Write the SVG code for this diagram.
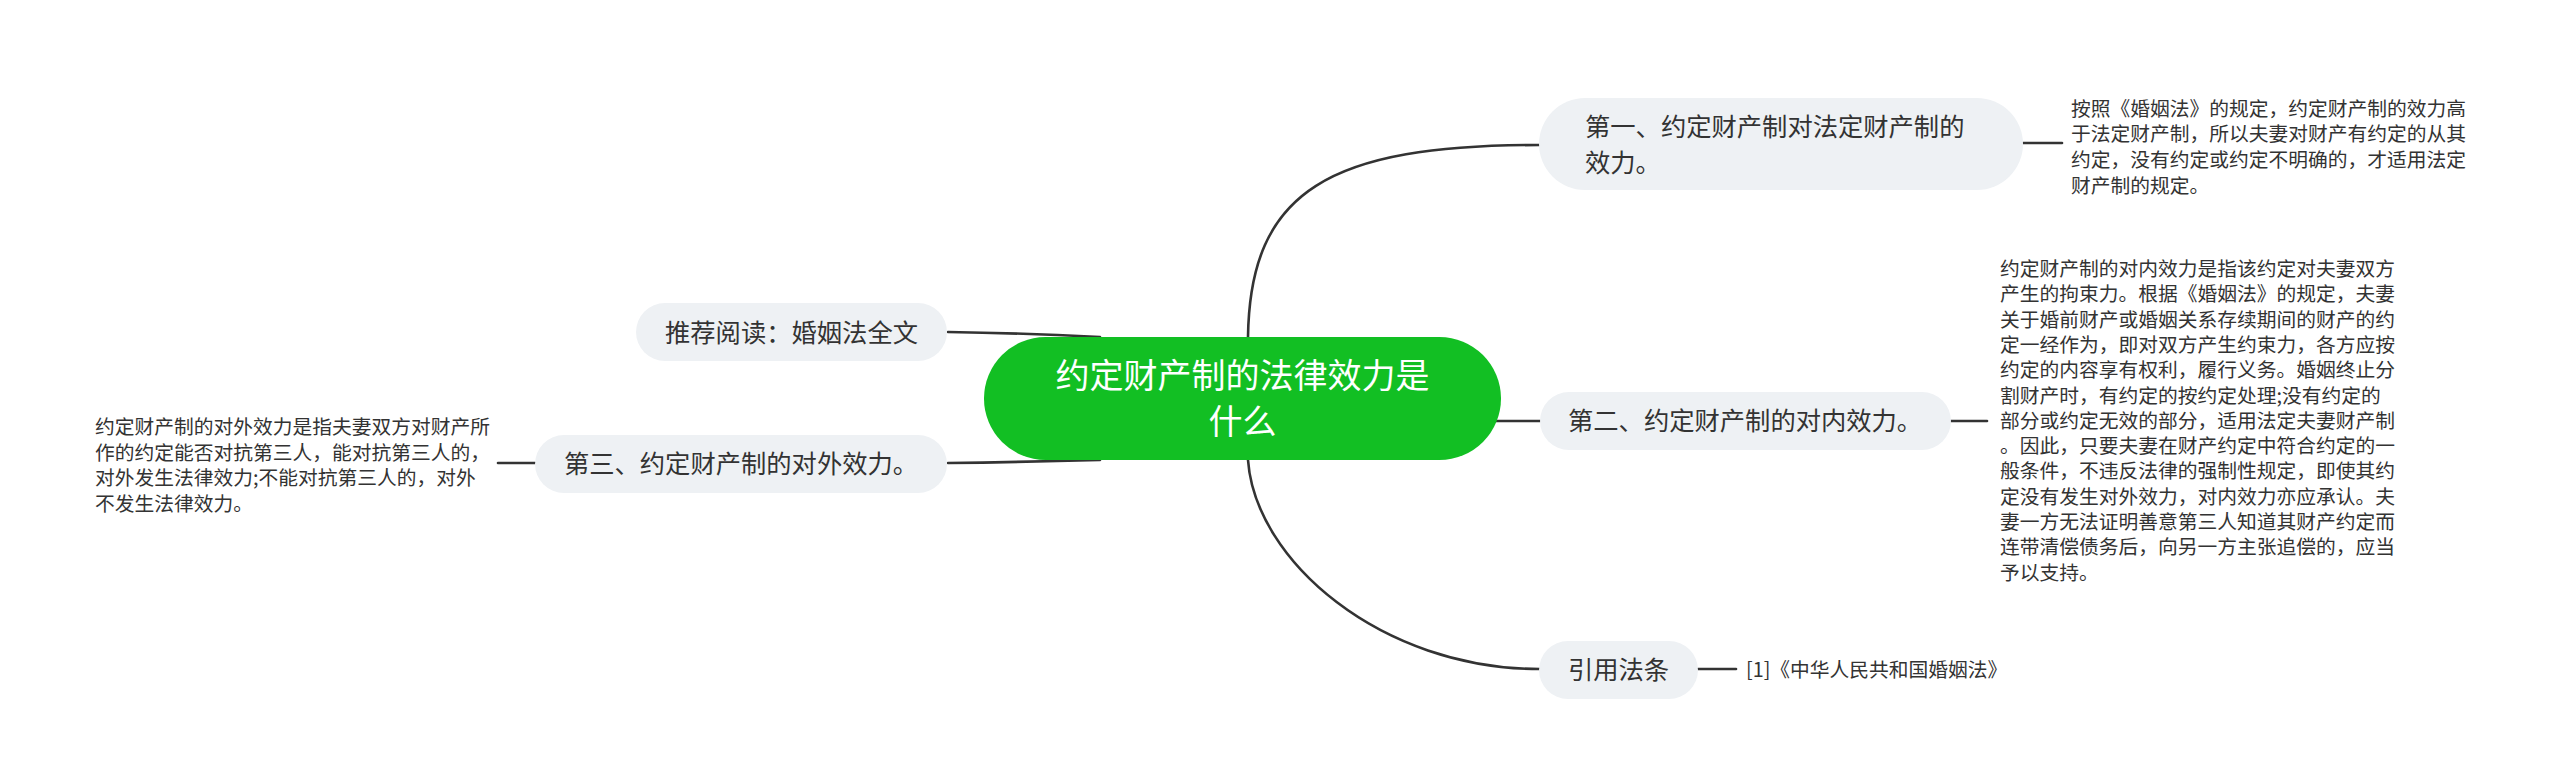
<svg xmlns="http://www.w3.org/2000/svg" width="2560" height="782" viewBox="0 0 2560 782">
<style>
.bg{fill:#ffffff}
.edge{fill:none;stroke:#333333;stroke-width:2.6;stroke-linecap:round}
.main{fill:#12BF23}
.sub{fill:#EEF1F4}
.t{font-family:"Noto Sans CJK SC","Noto Sans",sans-serif;fill:#333333}
.tc{font-family:"Noto Sans CJK SC","Noto Sans",sans-serif;fill:#ffffff;font-size:34px}
.ts{font-size:25.3px}
.tl{font-size:19.75px}
</style>
<rect class="bg" x="0" y="0" width="2560" height="782"/>
<g id="connectors">
<path class="edge" d="M1248 360 L1248 337 C1250 190 1330 145 1540 145"/>
<path class="edge" d="M1248 440 L1248 460 C1255 560 1380 669 1540 669"/>
<path class="edge" d="M1480 421 L1540 421"/>
<path class="edge" d="M948 332 Q1020 333 1100 337"/>
<path class="edge" d="M948 463 Q1020 462 1100 460"/>
<path class="edge" d="M2023 143 L2062 143"/>
<path class="edge" d="M1951 421 L1987 421"/>
<path class="edge" d="M1698 669 L1736 669"/>
<path class="edge" d="M498 463 L535 463"/>
</g>
<g id="root">
<rect class="main" x="984" y="337" width="517" height="123" rx="61.5"/>
<text class="tc" x="1242.5" y="388" text-anchor="middle">约定财产制的法律效力是</text>
<text class="tc" x="1242.5" y="434" text-anchor="middle">什么</text>
</g>
<g id="node-1">
<rect class="sub" x="1539" y="98" width="484" height="92" rx="46"/>
<text class="t ts" x="1585" y="135.5">第一、约定财产制对法定财产制的</text>
<text class="t ts" x="1585" y="171.5">效力。</text>
</g>
<g id="leaf-1">
<text class="t tl" x="2071"><tspan x="2071" y="115.6">按照《婚姻法》的规定，约定财产制的效力高</tspan><tspan x="2071" y="141.3">于法定财产制，所以夫妻对财产有约定的从其</tspan><tspan x="2071" y="167">约定，没有约定或约定不明确的，才适用法定</tspan><tspan x="2071" y="192.7">财产制的规定。</tspan></text>
</g>
<g id="node-2">
<rect class="sub" x="1540" y="392" width="411" height="58" rx="29"/>
<text class="t ts" x="1568" y="430">第二、约定财产制的对内效力。</text>
</g>
<g id="leaf-2">
<text class="t tl"><tspan x="2000" y="276">约定财产制的对内效力是指该约定对夫妻双方</tspan><tspan x="2000" y="301.3">产生的拘束力。根据《婚姻法》的规定，夫妻</tspan><tspan x="2000" y="326.6">关于婚前财产或婚姻关系存续期间的财产的约</tspan><tspan x="2000" y="351.9">定一经作为，即对双方产生约束力，各方应按</tspan><tspan x="2000" y="377.2">约定的内容享有权利，履行义务。婚姻终止分</tspan><tspan x="2000" y="402.5">割财产时，有约定的按约定处理;没有约定的</tspan><tspan x="2000" y="427.8">部分或约定无效的部分，适用法定夫妻财产制</tspan><tspan x="2000" y="453.1">。因此，只要夫妻在财产约定中符合约定的一</tspan><tspan x="2000" y="478.4">般条件，不违反法律的强制性规定，即使其约</tspan><tspan x="2000" y="503.7">定没有发生对外效力，对内效力亦应承认。夫</tspan><tspan x="2000" y="529">妻一方无法证明善意第三人知道其财产约定而</tspan><tspan x="2000" y="554.3">连带清偿债务后，向另一方主张追偿的，应当</tspan><tspan x="2000" y="579.6">予以支持。</tspan></text>
</g>
<g id="node-3">
<rect class="sub" x="1539" y="641" width="159" height="58" rx="29"/>
<text class="t ts" x="1618.5" y="679" text-anchor="middle">引用法条</text>
</g>
<g id="leaf-3">
<text class="t tl" x="1746" y="676.5">[1]《中华人民共和国婚姻法》</text>
</g>
<g id="node-4">
<rect class="sub" x="636" y="303" width="311" height="58" rx="29"/>
<text class="t ts" x="791.5" y="342" text-anchor="middle">推荐阅读：婚姻法全文</text>
</g>
<g id="node-5">
<rect class="sub" x="535" y="435" width="412" height="58" rx="29"/>
<text class="t ts" x="741" y="473" text-anchor="middle">第三、约定财产制的对外效力。</text>
</g>
<g id="leaf-5">
<text class="t tl"><tspan x="95" y="434">约定财产制的对外效力是指夫妻双方对财产所</tspan><tspan x="95" y="459.7">作的约定能否对抗第三人，能对抗第三人的，</tspan><tspan x="95" y="485.4">对外发生法律效力;不能对抗第三人的，对外</tspan><tspan x="95" y="511.1">不发生法律效力。</tspan></text>
</g>
</svg>
